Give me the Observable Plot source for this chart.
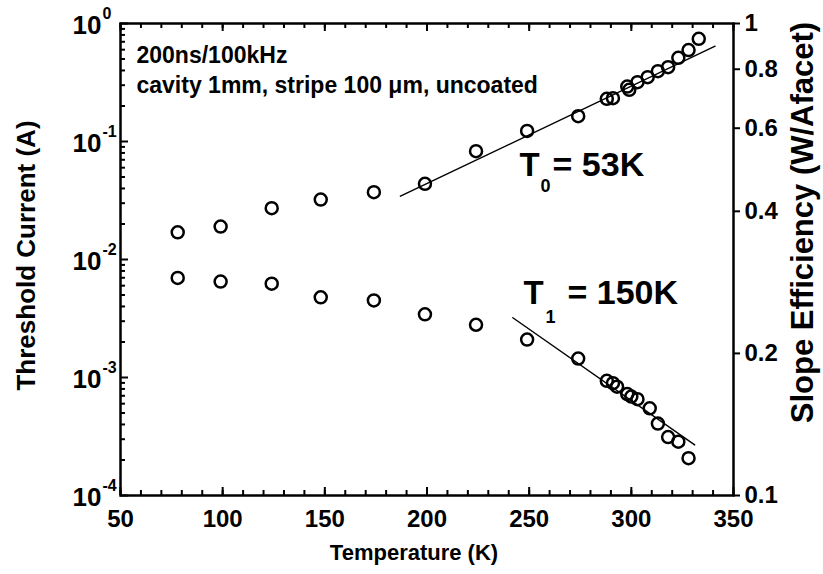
<!DOCTYPE html>
<html>
<head>
<meta charset="utf-8">
<script src="https://cdn.jsdelivr.net/npm/d3@7"></script>
<script src="https://cdn.jsdelivr.net/npm/@observablehq/plot@0.6"></script>
<style>
  html, body { margin: 0; padding: 0; background: #fff; }
  #chart svg { font-family: "Liberation Sans", Arial, sans-serif; color: #000; }
</style>
</head>
<body>
<div id="chart"></div>
<script>
// ---- data ----
const currentT = [78, 99, 124, 148, 174, 199, 224, 249, 274, 288, 291, 298, 299, 303, 308, 313, 318, 323, 328, 333];
const currentA = [0.0170, 0.0190, 0.0272, 0.0322, 0.0372, 0.0438, 0.0828, 0.123, 0.164, 0.230, 0.233, 0.292, 0.274, 0.318, 0.351, 0.394, 0.426, 0.512, 0.596, 0.742];

const slopeT = [78, 99, 124, 148, 174, 199, 224, 249, 274, 288, 291, 293, 298, 300, 303, 309, 313, 318, 323, 328];
const slopeW = [0.289, 0.284, 0.281, 0.263, 0.259, 0.242, 0.230, 0.214, 0.195, 0.175, 0.173, 0.170, 0.164, 0.162, 0.160, 0.153, 0.142, 0.133, 0.130, 0.120];

// exponential fits (straight on log axes)
const fitT0_T = [187, 341];
const fitT0_A = [0.0344, 0.642];
const fitT1_T = [242, 331];
const fitT1_W = [0.238, 0.128];

// axes
const xMajor = [50, 100, 150, 200, 250, 300, 350];
const xMinor = d3.range(50, 351, 10);
const leftMajor = [1e-4, 1e-3, 1e-2, 1e-1, 1];
const leftExp = ["-4", "-3", "-2", "-1", "0"];
const leftMinor = [1e-4, 1e-3, 1e-2, 1e-1].flatMap(d => d3.range(2, 10).map(k => k * d));
const rightTicks = [0.1, 0.2, 0.4, 0.6, 0.8, 1];
const rightLabels = ["0.1", "0.2", "0.4", "0.6", "0.8", "1"];

const xTitle = "Temperature (K)";
const yLeftTitle = "Threshold Current (A)";
const yRightTitle = "Slope Efficiency (W/Afacet)";
const noteLines = "200ns/100kHz\ncavity 1mm, stripe 100 \u03bcm, uncoated";

// ---- build tables ----
const current = currentT.map((t, i) => ({T: t, v: currentA[i]}));
const slope = slopeT.map((t, i) => ({T: t, v: slopeW[i]}));
const fit0 = fitT0_T.map((t, i) => ({T: t, v: fitT0_A[i]}));
const fit1 = fitT1_T.map((t, i) => ({T: t, v: fitT1_W[i]}));
// right axis (0.1..1, log) mapped onto left scale (1e-4..1, log): v -> v^4
const R = v => Math.pow(v, 4);
const leftTicks = leftMajor.map((v, i) => ({v, e: leftExp[i]}));
const rightTickData = rightTicks.map((v, i) => ({v, label: rightLabels[i]}));

const W = 823, H = 574, mL = 120, mR = 90, mT = 23, mB = 79;
const pw = W - mL - mR, ph = H - mT - mB;
const bold = {fontWeight: "bold", fill: "black"};
const T0pos = [{T: 245.3, v: 0.0515}];
const T1pos = [{T: 247.2, v: 0.00421}];

const chart = Plot.plot({
  width: W, height: H,
  marginLeft: mL, marginRight: mR, marginTop: mT, marginBottom: mB,
  style: {fontFamily: '"Liberation Sans", Arial, sans-serif', background: "white", color: "black"},
  x: {domain: [50, 350], axis: null},
  y: {type: "log", domain: [1e-4, 1], axis: null},
  marks: [
    // ticks: bottom & top (inward)
    Plot.tickX(xMinor, {x: d => d, insetTop: ph - 5, stroke: "black", strokeWidth: 2}),
    Plot.tickX(xMajor, {x: d => d, insetTop: ph - 8, stroke: "black", strokeWidth: 2}),
    Plot.tickX(xMinor, {x: d => d, insetBottom: ph - 5, stroke: "black", strokeWidth: 2}),
    Plot.tickX(xMajor, {x: d => d, insetBottom: ph - 8, stroke: "black", strokeWidth: 2}),
    // left ticks (inward)
    Plot.tickY(leftMinor, {y: d => d, insetRight: pw - 5, stroke: "black", strokeWidth: 2}),
    Plot.tickY(leftMajor, {y: d => d, insetRight: pw - 8, stroke: "black", strokeWidth: 2}),
    // right ticks (outward)
    Plot.tickY(rightTickData, {y: d => R(d.v), insetLeft: pw, insetRight: -7, stroke: "black", strokeWidth: 2}),
    Plot.frame({stroke: "black", strokeWidth: 2.5}),

    // fit lines
    Plot.line(fit0, {x: "T", y: "v", stroke: "black", strokeWidth: 1.4}),
    Plot.line(fit1, {x: "T", y: d => R(d.v), stroke: "black", strokeWidth: 1.4}),

    // data
    Plot.dot(current, {x: "T", y: "v", r: 6, stroke: "black", strokeWidth: 2.5, fill: "none"}),
    Plot.dot(slope, {x: "T", y: d => R(d.v), r: 6, stroke: "black", strokeWidth: 2.5, fill: "none"}),

    // tick labels
    Plot.text(xMajor, {x: d => d, frameAnchor: "bottom", dy: 24, text: d => String(d), fontSize: 24, textAnchor: "middle", lineAnchor: "middle", ...bold}),
    Plot.text(leftTicks, {y: "v", frameAnchor: "left", dx: -19, dy: 2, text: () => "10", textAnchor: "end", fontSize: 26, lineAnchor: "middle", ...bold}),
    Plot.text(leftTicks, {y: "v", frameAnchor: "left", dx: -18, dy: -10, text: "e", textAnchor: "start", fontSize: 16, lineAnchor: "middle", ...bold}),
    Plot.text(rightTickData, {y: d => R(d.v), frameAnchor: "right", dx: 11, text: "label", textAnchor: "start", fontSize: 24, lineAnchor: "middle", ...bold}),

    // axis titles
    Plot.text([xTitle], {frameAnchor: "bottom", dx: -13, dy: 57, fontSize: 22, textAnchor: "middle", lineAnchor: "middle", ...bold}),
    Plot.text([yLeftTitle], {frameAnchor: "left", dx: -94, dy: -4, rotate: -90, fontSize: 26, textAnchor: "middle", lineAnchor: "middle", ...bold}),
    Plot.text([yRightTitle], {frameAnchor: "right", dx: 70, dy: -37, rotate: -90, fontSize: 31, textAnchor: "middle", lineAnchor: "middle", ...bold}),

    // note
    Plot.text([noteLines], {frameAnchor: "top-left", dx: 16, dy: 18, textAnchor: "start", lineAnchor: "top", lineHeight: 1.3, fontSize: 23, ...bold}),

    // T0 label
    Plot.text(T0pos, {x: "T", y: "v", text: () => "T", textAnchor: "start", lineAnchor: "bottom", fontSize: 33, ...bold}),
    Plot.text(T0pos, {x: "T", y: "v", dx: 21, dy: 16, text: () => "0", textAnchor: "start", lineAnchor: "bottom", fontSize: 18, ...bold}),
    Plot.text(T0pos, {x: "T", y: "v", dx: 33, text: () => "= 53K", textAnchor: "start", lineAnchor: "bottom", fontSize: 34, ...bold}),
    // T1 label
    Plot.text(T1pos, {x: "T", y: "v", text: () => "T", textAnchor: "start", lineAnchor: "bottom", fontSize: 33, ...bold}),
    Plot.text(T1pos, {x: "T", y: "v", dx: 22, dy: 19, text: () => "1", textAnchor: "start", lineAnchor: "bottom", fontSize: 18, ...bold}),
    Plot.text(T1pos, {x: "T", y: "v", dx: 44, text: () => "= 150K", textAnchor: "start", lineAnchor: "bottom", fontSize: 34, ...bold})
  ]
});
document.getElementById("chart").appendChild(chart);
</script>
</body>
</html>
